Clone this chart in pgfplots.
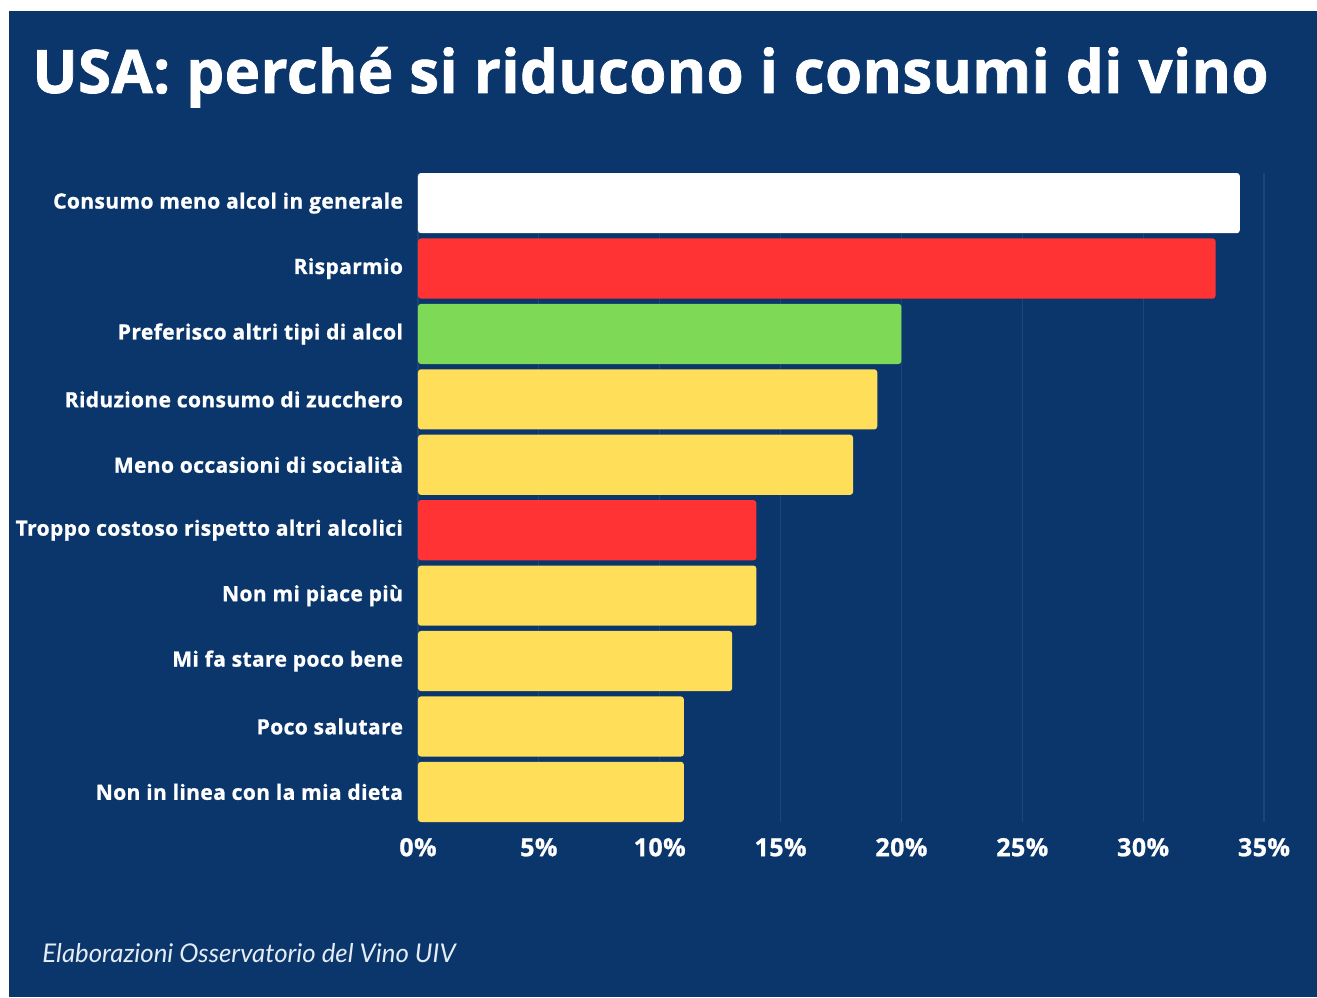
\documentclass[border=0pt]{standalone}
\usepackage{pgfplots}
\pgfplotsset{compat=1.18}
\usepackage{fontspec}
\setmainfont{Open Sans}
\newfontfamily\titlefont{Open Sans}[BoldFeatures={FakeBold=1.2, LetterSpace=0.6}]
\newfontfamily\lab{Open Sans}[BoldFeatures={FakeBold=1, LetterSpace=1.8}]
\newfontfamily\footfont{Lato}

\definecolor{bg}{HTML}{0B366C}
\definecolor{gridc}{HTML}{1D4677}
\definecolor{cred}{HTML}{FF3333}
\definecolor{cgreen}{HTML}{7ED957}
\definecolor{cyellow}{HTML}{FFDE59}
\definecolor{footc}{HTML}{E4ECF4}

\begin{document}
\begin{tikzpicture}
% page 1317x997 px, 1 px = 0.5pt
\useasboundingbox (0,0) rectangle (658.5pt,498.5pt);
\fill[white] (0,0) rectangle (658.5pt,498.5pt);
\fill[bg] (4.5pt,0) rectangle (658.5pt,493pt);

\node[anchor=base west, inner sep=0pt, text=white, font=\titlefont\bfseries\fontsize{30}{36}\selectfont]
  at (16pt,452pt) {USA: perché si riducono i consumi di vino};

\begin{axis}[
    at={(209pt,412pt)}, anchor=north west,
    scale only axis, width=423pt, height=324.5pt,
    xbar, bar width=0.92, bar shift=0pt,
    xmin=0, xmax=35,
    ymin=-0.46, ymax=9.46, y dir=reverse,
    axis line style={draw=none},
    major tick length=0pt,
    xmajorgrids, grid style={gridc, line width=0.6pt},
    xtick={0,5,...,35},
    xticklabels={0\%,5\%,10\%,15\%,20\%,25\%,30\%,35\%},
    ytick={0,...,9},
    yticklabels={Consumo meno alcol in generale, Risparmio, Preferisco altri tipi di alcol,
      Riduzione consumo di zucchero, Meno occasioni di socialità,
      Troppo costoso rispetto altri alcolici, Non mi piace più,
      Mi fa stare poco bene, Poco salutare, Non in linea con la mia dieta},
    xticklabel style={text=white, font=\lab\bfseries\fontsize{12.5}{15}\selectfont, yshift=-4.5pt},
    yticklabel style={text=white, font=\lab\bfseries\fontsize{10.5}{13}\selectfont, xshift=-4pt},
    every axis plot/.append style={draw=none, rounded corners=1.5pt},
]
\addplot[fill=white] coordinates {(34,0)};
\addplot[fill=cred] coordinates {(33,1) (14,5)};
\addplot[fill=cgreen] coordinates {(20,2)};
\addplot[fill=cyellow] coordinates {(19,3) (18,4) (14,6) (13,7) (11,8) (11,9)};
\end{axis}

\node[anchor=base west, inner sep=0pt, text=footc, font=\footfont\itshape\fontsize{12.9}{15}\selectfont]
  at (21pt,17.5pt) {Elaborazioni Osservatorio del Vino UIV};
\end{tikzpicture}
\end{document}
